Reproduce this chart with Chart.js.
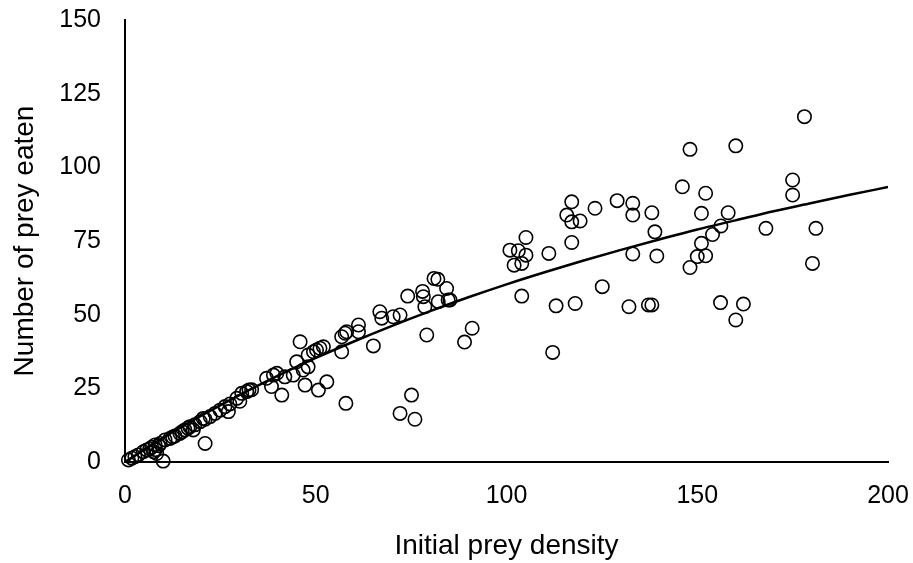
<!DOCTYPE html>
<html>
<head>
<meta charset="utf-8">
<script src="https://cdn.jsdelivr.net/npm/chart.js@4/dist/chart.umd.min.js"></script>
<style>
  html, body { margin: 0; padding: 0; background: #fff; }
  #wrap { width: 913px; height: 563px; position: relative; }
</style>
</head>
<body>
<div id="wrap"><canvas id="c" width="913" height="563"></canvas></div>
<script>
// Observed data: initial prey density (x) and number of prey eaten (y)
const preyDensity = [
  0.9, 1.8, 2.6, 3.5, 4.8, 5.7, 6.5, 7, 7.5, 8.3, 7.9, 8, 8.8, 10, 9.2, 10.5, 11.8, 12.5, 13.1, 14.4, 15, 15.7, 16.5, 17, 17.9, 18.3, 19.7, 20.5, 21, 21, 22.3, 23.6, 24.9, 26.2, 27.1, 27.5, 29.3, 30.1, 30.6, 31.9, 32.5, 33.2,
  37.1, 38.9, 39.8, 38.4, 41.1, 41.9, 44.1, 45, 45.9, 46.7, 47.2, 48, 48, 49.4, 50.2, 51.1, 52, 50.7, 52.9, 56.8, 56.8, 57.7, 58.1, 61.2, 61.2, 57.9, 65.1, 66.8, 67.3, 70.3, 72.1, 74.1, 78.2, 78, 78.6, 82.1, 84.7, 79.1, 75.1, 72.1, 76, 89, 91, 81, 82, 84.3, 85.2,
  117.1, 115.8, 117.1, 119.3, 123.2, 129, 133.1, 133.1, 138.1, 138.9, 117.1, 133.1, 139.4, 105.1, 100.9, 103.1, 105.1, 102, 104, 111.1, 104, 113, 118, 125.1, 132.1, 137.2, 138.1, 112.1,
  178.1, 148.1, 160.1, 146.1, 152.2, 175, 175, 151.1, 158.1, 156.2, 154, 151.1, 168, 181.1, 150, 152.2, 148.1, 180.2, 156.1, 162.1, 160.1
];
const preyEaten = [
  0.7, 1.3, 1.8, 2.4, 3.5, 4.1, 4.5, 5, 3.5, 2.9, 5.8, 4.2, 5.5, 0.3, 6.3, 7.5, 8, 8.5, 8.8, 9.7, 10.3, 10.9, 11.5, 12, 10.9, 12.6, 13.7, 14.8, 6.3, 14.5, 15.4, 16.5, 17.6, 18.8, 17.1, 19.7, 21.6, 20.6, 23.3, 23.9, 24.4, 24.5,
  28.4, 29.5, 30.1, 25.6, 22.7, 28.9, 29.5, 34, 40.8, 31.2, 26.1, 32.3, 36.3, 37.4, 38, 38.6, 39.1, 24.4, 27.2, 37.4, 42.5, 43.7, 44.2, 46.5, 44.2, 19.9, 39.4, 51, 48.8, 49.3, 49.9, 56.3, 56.1, 57.9, 52.7, 54.4, 55, 43.1, 22.7, 16.5, 14.5, 40.7, 45.4, 62.3, 62, 58.9, 55,
  88.3, 83.8, 81.5, 81.8, 86.1, 88.7, 87.8, 83.8, 84.6, 78.1, 74.5, 70.6, 69.9, 76.2, 71.9, 71.7, 70.2, 66.8, 67.4, 70.8, 56.3, 53, 53.8, 59.5, 52.7, 53.3, 53.3, 37.2,
  117.2, 106.1, 107.3, 93.4, 91.2, 95.7, 90.6, 84.4, 84.6, 80.1, 77.2, 74.2, 79.3, 79.3, 69.7, 70, 66, 67.4, 54.1, 53.6, 48.2
];
// Fitted curve at steps of 10
const curveX = [0, 10, 20, 30, 40, 50, 60, 70, 80, 90, 100, 110, 120, 130, 140, 150, 160, 170, 180, 190, 200];
const curveY = [0, 8.2, 15.7, 22.7, 29.2, 35.3, 40.9, 46.2, 51.2, 55.9, 60.3, 64.4, 68.3, 72.0, 75.5, 78.9, 82.0, 85.1, 87.9, 90.7, 93.3];
const xTicks = [0, 50, 100, 150, 200];
const yTicks = [0, 25, 50, 75, 100, 125, 150];
const xTitle = 'Initial prey density';
const yTitle = 'Number of prey eaten';

const FONT = "'Liberation Sans', Arial, sans-serif";
const points = preyDensity.map((x, i) => ({ x: x, y: preyEaten[i] }));
const curve = curveX.map((x, i) => ({ x: x, y: curveY[i] }));

new Chart(document.getElementById('c'), {
  type: 'scatter',
  data: {
    datasets: [
      {
        label: 'Observed',
        data: points,
        pointStyle: 'circle',
        pointRadius: 6.7,
        pointHoverRadius: 6.7,
        borderWidth: 1.6,
        borderColor: '#000',
        backgroundColor: 'rgba(0,0,0,0)',
        clip: false,
        order: 2
      },
      {
        type: 'line',
        label: 'Fit',
        data: curve,
        borderColor: '#000',
        borderWidth: 2.5,
        pointRadius: 0,
        fill: false,
        cubicInterpolationMode: 'monotone',
        order: 1
      }
    ]
  },
  options: {
    responsive: false,
    animation: false,
    events: [],
    layout: { padding: { left: 0, right: 25, top: 20, bottom: 0 } },
    plugins: { legend: { display: false }, tooltip: { enabled: false } },
    scales: {
      x: {
        type: 'linear', min: 0, max: 200,
        afterBuildTicks: (s) => { s.ticks = xTicks.map(v => ({ value: v })); },
        grid: { display: false, drawTicks: false },
        border: { display: true, color: '#000', width: 2 },
        ticks: { color: '#000', font: { family: FONT, size: 25 }, padding: 19, maxRotation: 0 },
        title: { display: true, text: xTitle, color: '#000', font: { family: FONT, size: 28 }, padding: { top: 0, bottom: 0 } },
        afterFit: (s) => { s.height = 101; s.paddingLeft = 0; s.paddingRight = 0; }
      },
      y: {
        type: 'linear', min: 0, max: 150,
        afterBuildTicks: (s) => { s.ticks = yTicks.map(v => ({ value: v })); },
        grid: { display: false, drawTicks: false },
        border: { display: true, color: '#000', width: 2 },
        ticks: { color: '#000', font: { family: FONT, size: 25 }, padding: 24 },
        title: { display: true, text: yTitle, color: '#000', font: { family: FONT, size: 28 }, padding: { top: 8, bottom: 0 } },
        afterFit: (s) => { s.width = 125; s.paddingTop = 0; s.paddingBottom = 0; }
      }
    }
  }
});
</script>
</body>
</html>
